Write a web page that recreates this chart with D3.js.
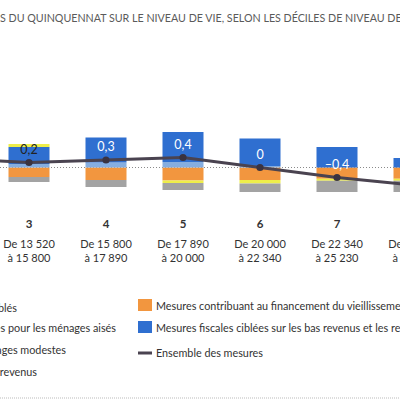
<!DOCTYPE html>
<html>
<head>
<meta charset="utf-8">
<script src="https://cdn.jsdelivr.net/npm/d3@7"></script>
<style>
  body { margin: 0; background: #fff; }
  svg { display: block; font-family: Lato, "Open Sans", sans-serif; }
</style>
</head>
<body>
<script>
// Data, deciles 2 to 8 (2 and 8 partly out of frame)
var deciles = ["2", "3", "4", "5", "6", "7", "8"];
var rangeLow = ["11 580", "13 520", "15 800", "17 890", "20 000", "22 340", "25 230"];
var rangeHigh = ["13 520", "15 800", "17 890", "20 000", "22 340", "25 230", "28 790"];

// contributions in points of niveau de vie
var lightBlue = [0.10, 0.14, 0.20, 0.22, 0.06, 0, 0];
var blue      = [0.60, 0.68, 1.00, 1.20, 1.10, 0.82, 0.38];
var yellow    = [0.10, 0.12, 0, -0.10, -0.14, -0.08, -0.08];
var orange    = [-0.35, -0.38, -0.50, -0.52, -0.50, -0.45, -0.45];
var grey      = [-0.20, -0.20, -0.28, -0.28, -0.34, -0.45, -0.45];
var ensemble  = [0.35, 0.2, 0.3, 0.4, 0, -0.4, -0.7];

var title = "EFFETS DES MESURES DU QUINQUENNAT SUR LE NIVEAU DE VIE, SELON LES DÉCILES DE NIVEAU DE VIE";
var legendLeft = [
  "Prestations et aides au logement ciblés",
  "Mesures fiscales pour les ménages aisés",
  "Prestations pour les ménages modestes",
  "Prélèvements sociaux sur les revenus"
];
var legendRight = [
  "Mesures contribuant au financement du vieillissement",
  "Mesures fiscales ciblées sur les bas revenus et les retraités",
  "Ensemble des mesures"
];

var width = 400, height = 400;
var colors = {
  orange: "#f2963f",
  lightBlue: "#86aee0",
  blue: "#2f6fd0",
  yellow: "#eeee4a",
  grey: "#a3a3a3",
  line: "#4a4350"
};

var svg = d3.select("body").append("svg")
  .attr("width", width)
  .attr("height", height);

// scales
var x = d3.scalePoint().domain(deciles).range([-48, 414]);
var y = d3.scaleLinear().domain([-1, 1]).range([192.5, 142.5]);
var barW = 41;

// title, cut on both sides like the scan
var t = svg.append("text")
  .attr("y", 22)
  .attr("fill", "#5a5a5a")
  .style("font-size", "10.5px")
  .text(title);
var i0 = title.indexOf("S DU");
var i1 = title.lastIndexOf("NIVEAU D") + "NIVEAU D".length;
var w = t.node().getSubStringLength(i0, i1 - i0);
var fs = 10.5 * 396 / w;
t.style("font-size", fs + "px");
t.attr("x", -t.node().getSubStringLength(0, i0));

// zero line
svg.append("line")
  .attr("x1", 0).attr("x2", width)
  .attr("y1", y(0)).attr("y2", y(0))
  .attr("stroke", "#8a8a8a")
  .attr("stroke-dasharray", "1,2");

// stacked bars
var keys = ["orange", "lightBlue", "blue", "yellow", "grey"];
var series = { orange: orange, lightBlue: lightBlue, blue: blue, yellow: yellow, grey: grey };
var rows = deciles.map(function (d, i) {
  var r = { decile: d };
  keys.forEach(function (k) { r[k] = series[k][i]; });
  return r;
});
var stack = d3.stack().keys(keys).offset(d3.stackOffsetDiverging)(rows);

svg.selectAll(".layer")
  .data(stack)
  .enter().append("g")
  .attr("class", "layer")
  .attr("fill", function (s) { return colors[s.key]; })
  .selectAll("rect")
  .data(function (s) { return s; })
  .enter().append("rect")
  .attr("x", function (d) { return x(d.data.decile) - barW / 2; })
  .attr("width", barW)
  .attr("y", function (d) { return y(Math.max(d[0], d[1])); })
  .attr("height", function (d) { return Math.abs(y(d[0]) - y(d[1])); });

// ensemble line
var line = d3.line()
  .x(function (d, i) { return x(deciles[i]); })
  .y(function (d) { return y(d); });

svg.append("path")
  .datum(ensemble)
  .attr("d", line)
  .attr("fill", "none")
  .attr("stroke", colors.line)
  .attr("stroke-width", 3);

svg.selectAll(".dot")
  .data(ensemble)
  .enter().append("circle")
  .attr("cx", function (d, i) { return x(deciles[i]); })
  .attr("cy", function (d) { return y(d); })
  .attr("r", 3.6)
  .attr("fill", "#3a3340");

svg.selectAll(".val")
  .data(ensemble)
  .enter().append("text")
  .attr("x", function (d, i) { return x(deciles[i]); })
  .attr("y", function (d) { return y(d) - 9; })
  .attr("text-anchor", "middle")
  .attr("fill", function (d, i) { return yellow[i] > 0 ? "#222" : "#fff"; })
  .style("font-size", "12.5px")
  .text(function (d) { return String(d).replace(".", ",").replace("-", "\u2013"); });

// category labels
var cat = svg.selectAll(".cat")
  .data(deciles)
  .enter().append("g")
  .attr("transform", function (d) { return "translate(" + x(d) + ",0)"; })
  .attr("text-anchor", "middle")
  .attr("fill", "#333")
  .style("font-size", "11px");
cat.append("text").attr("y", 228).style("font-weight", "bold").style("font-size", "11.5px").text(function (d) { return d; });
cat.append("text").attr("y", 248).text(function (d, i) { return "De " + rangeLow[i]; });
cat.append("text").attr("y", 262).text(function (d, i) { return "\u00e0 " + rangeHigh[i]; });

// legend, left column (swatches out of frame)
var leftEnds = [17, 116, 66, 37];
var leftY = [312, 332, 354, 376];
svg.selectAll(".legL")
  .data(legendLeft)
  .enter().append("text")
  .attr("x", function (d, i) { return leftEnds[i]; })
  .attr("y", function (d, i) { return leftY[i]; })
  .attr("text-anchor", "end")
  .attr("fill", "#333")
  .style("font-size", "10.8px")
  .text(function (d) { return d; });

// legend, right column
var legR = svg.append("g").attr("fill", "#333").style("font-size", "10.8px");
legR.append("rect").attr("x", 138).attr("y", 299).attr("width", 14).attr("height", 12).attr("fill", colors.orange);
legR.append("rect").attr("x", 138).attr("y", 321).attr("width", 14).attr("height", 12).attr("fill", colors.blue);
legR.append("line").attr("x1", 138).attr("x2", 152).attr("y1", 353).attr("y2", 353)
  .attr("stroke", colors.line).attr("stroke-width", 3);
legR.selectAll("text")
  .data(legendRight)
  .enter().append("text")
  .attr("x", 156)
  .attr("y", function (d, i) { return [310, 332, 357][i]; })
  .text(function (d) { return d; });

// bottom rule
svg.append("line")
  .attr("x1", 0).attr("x2", width)
  .attr("y1", 398).attr("y2", 398)
  .attr("stroke", "#bbb")
  .attr("stroke-dasharray", "1,1");
</script>
</body>
</html>
